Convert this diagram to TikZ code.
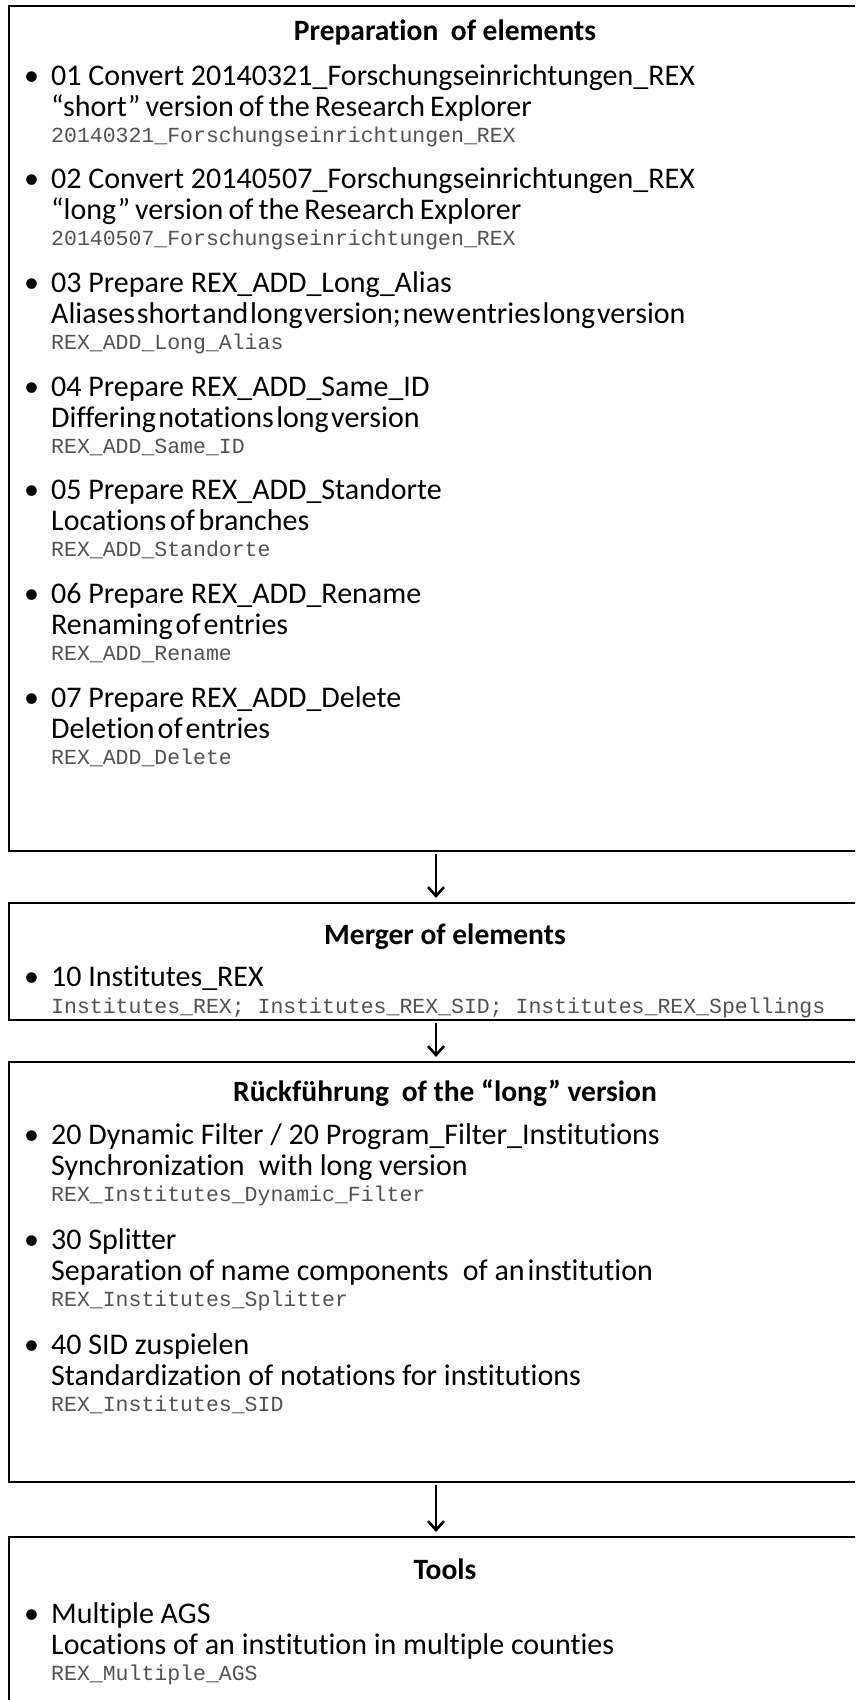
\documentclass[tikz,border=0pt]{standalone}
\usepackage{fontspec}
\setmainfont{Carlito}[Ligatures={NoCommon}]
\newfontfamily\monofont{Liberation Mono}
\usetikzlibrary{arrows.meta}
\definecolor{monogray}{rgb}{0.32,0.32,0.32}
\tikzset{
  box/.style={rectangle, inner sep=0pt, anchor=north west},
  boxline/.style={draw=black, line width=2pt, line join=miter},
  ttl/.style={anchor=base, inner sep=0pt, font=\fontsize{29.5}{31}\selectfont\bfseries},
  itm/.style={anchor=base west, inner sep=0pt, font=\fontsize{30}{31}\selectfont},
  mono/.style={anchor=base west, inner sep=0pt, text=monogray, font=\fontsize{21.5}{22}\monofont},
  bul/.style={anchor=base west, inner sep=0pt, font=\fontsize{30}{31}\selectfont},
  flow/.style={line width=2.6pt, -{Straight Barb[length=9pt,width=16pt,line width=2.6pt]}, shorten <=3pt, shorten >=5pt}
}
\newcommand\myentry[5]{%
  \node[bul] (#1b) at (24,-#2) {•};
  \node[itm] (#1a) at (51,-#2) {#3};
  \node[itm] (#1c) at (51,-#2-31) {#4};
  \node[mono] (#1m) at (51,-#2-57) {#5};
}
\newcommand\openbox[1]{%
  \draw[boxline] (#1.north east) -- (#1.north west) -- (#1.south west) -- (#1.south east);
}
\begin{document}
\begin{tikzpicture}[x=1pt,y=1pt]
\useasboundingbox (0,0) rectangle (855,-1700);
\clip (0,0) rectangle (855,-1700);
\coordinate (ax) at (436,0);
% boxes
\node[box, minimum width=900pt, minimum height=845pt] (b1) at (9,-6) {};
\node[box, minimum width=900pt, minimum height=117pt] (b2) at (9,-903) {};
\node[box, minimum width=900pt, minimum height=420pt] (b3) at (9,-1062) {};
\node[box, minimum width=900pt, minimum height=190pt] (b4) at (9,-1537) {};
\openbox{b1}\openbox{b2}\openbox{b3}\openbox{b4}
% box 1
\node[ttl] (t1) at (445,-40) {Preparation\hspace{0.2em} of elements};
\myentry{e1}{85}{01 Convert 20140321\_Forschungseinrichtungen\_REX}{\spaceskip=0.17em\relax “short” version of the Research Explorer}{20140321\_Forschungseinrichtungen\_REX}
\myentry{e2}{188.7}{02 Convert 20140507\_Forschungseinrichtungen\_REX}{\spaceskip=0.17em\relax “long” version of the Research Explorer}{20140507\_Forschungseinrichtungen\_REX}
\myentry{e3}{292.4}{03 Prepare REX\_ADD\_Long\_Alias}{\spaceskip=0.06em\relax Aliases short and long version; new entries long version}{REX\_ADD\_Long\_Alias}
\myentry{e4}{396.1}{04 Prepare REX\_ADD\_Same\_ID}{\spaceskip=0.08em\relax Differing notations long version}{REX\_ADD\_Same\_ID}
\myentry{e5}{499.8}{05 Prepare REX\_ADD\_Standorte}{\spaceskip=0.12em\relax Locations of branches}{REX\_ADD\_Standorte}
\myentry{e6}{603.5}{06 Prepare REX\_ADD\_Rename}{\spaceskip=0.1em\relax Renaming of entries}{REX\_ADD\_Rename}
\myentry{e7}{707.2}{07 Prepare REX\_ADD\_Delete}{\spaceskip=0.1em\relax Deletion of entries}{REX\_ADD\_Delete}
% box 2
\node[ttl] (t2) at (445,-944) {Merger of elements};
\node[bul] (f1b) at (24,-986) {•};
\node[itm] (f1a) at (51,-986) {10 Institutes\_REX};
\node[mono] (f1m) at (51,-1013) {Institutes\_REX; Institutes\_REX\_SID; Institutes\_REX\_Spellings};
% box 3
\node[ttl] (t3) at (445,-1101) {Rückführung\hspace{0.2em} of the “long” version};
\myentry{g1}{1144}{20 Dynamic Filter / 20 Program\_Filter\_Institutions}{Synchronization\hspace{0.25em} with long version}{REX\_Institutes\_Dynamic\_Filter}
\myentry{g2}{1249}{30 Splitter}{Separation of name components\hspace{0.25em} of {\spaceskip=0.1em\relax an institution}}{REX\_Institutes\_Splitter}
\myentry{g3}{1354}{40 SID zuspielen}{Standardization of notations for institutions}{REX\_Institutes\_SID}
% box 4
\node[ttl] (t4) at (445,-1579) {Tools};
\myentry{h1}{1623}{Multiple AGS}{Locations of an institution in multiple counties}{REX\_Multiple\_AGS}
% arrows
\draw[flow] (b1.south -| ax) -- (b2.north -| ax);
\draw[flow] (b2.south -| ax) -- (b3.north -| ax);
\draw[flow] (b3.south -| ax) -- (b4.north -| ax);
\end{tikzpicture}
\end{document}
